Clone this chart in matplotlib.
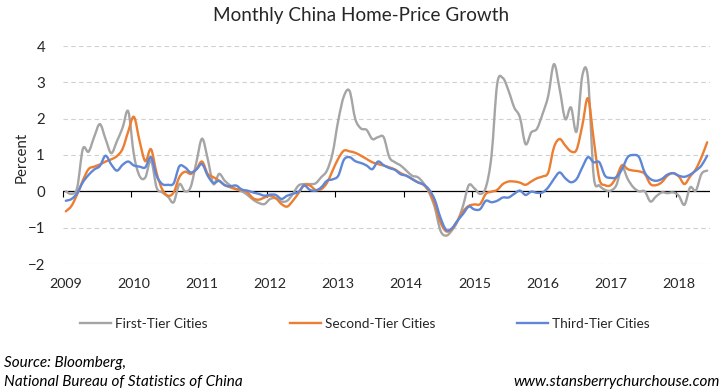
import numpy as np
import matplotlib.pyplot as plt
from matplotlib.path import Path
from matplotlib.patches import PathPatch
from matplotlib.lines import Line2D

# monthly data, Jan 2009 .. Jun 2018 (percent change m/m)
years = list(range(2009, 2019))

first_tier = [
    0.0, -0.07, 0.1, 1.17, 1.09, 1.5, 1.85, 1.44, 1.05, 1.38, 1.75, 2.2,
    1.0, 0.42, 0.38, 0.85, 0.1, -0.03, -0.15, -0.3, 0.2, 0.0, 0.12, 0.8,
    1.45, 0.89, 0.2, 0.48, 0.29, 0.16, 0.06, 0.0, -0.1, -0.23, -0.32, -0.35,
    -0.21, -0.19, -0.28, -0.26, -0.07, 0.16, 0.2, 0.2, 0.22, 0.39, 0.57, 1.05,
    1.95, 2.62, 2.76, 1.99, 1.73, 1.69, 1.44, 1.49, 1.49, 0.94, 0.8, 0.71,
    0.57, 0.43, 0.39, 0.23, -0.03, -0.44, -1.08, -1.22, -1.08, -0.83, -0.39, 0.17,
    0.08, -0.07, 0.11, 0.98, 2.95, 3.12, 2.77, 2.31, 2.04, 1.3, 1.62, 1.72,
    2.13, 2.63, 3.5, 2.82, 1.99, 2.31, 1.65, 3.18, 3.12, 0.43, 0.16, 0.04,
    0.02, 0.17, 0.66, 0.34, 0.11, 0.0, 0.0, -0.28, -0.14, -0.03, -0.05, -0.03,
    -0.12, -0.37, 0.11, 0.02, 0.48, 0.57,
]

second_tier = [
    -0.55, -0.4, -0.08, 0.3, 0.61, 0.68, 0.74, 0.82, 0.88, 0.97, 1.17, 1.65,
    2.05, 1.38, 0.83, 1.16, 0.5, 0.05, -0.12, -0.03, 0.39, 0.54, 0.48, 0.61,
    0.82, 0.48, 0.39, 0.29, 0.17, 0.11, 0.06, 0.04, -0.03, -0.19, -0.23, -0.17,
    -0.12, -0.19, -0.35, -0.42, -0.26, -0.05, 0.17, 0.16, 0.04, 0.06, 0.23, 0.57,
    0.9, 1.12, 1.1, 1.06, 0.98, 0.89, 0.8, 0.75, 0.71, 0.66, 0.6, 0.5,
    0.43, 0.34, 0.25, 0.18, 0.0, -0.35, -0.85, -1.1, -1.04, -0.81, -0.55, -0.4,
    -0.36, -0.35, -0.07, -0.01, 0.04, 0.2, 0.27, 0.27, 0.24, 0.18, 0.27, 0.36,
    0.41, 0.52, 1.21, 1.44, 1.26, 1.1, 1.15, 1.81, 2.56, 1.44, 0.34, 0.17,
    0.17, 0.39, 0.72, 0.61, 0.57, 0.55, 0.48, 0.2, 0.17, 0.25, 0.43, 0.5,
    0.41, 0.2, 0.41, 0.61, 0.94, 1.35,
]

third_tier = [
    -0.26, -0.21, -0.05, 0.25, 0.45, 0.6, 0.7, 0.98, 0.74, 0.57, 0.73, 0.82,
    0.71, 0.68, 0.66, 0.94, 0.42, 0.2, 0.18, 0.22, 0.69, 0.66, 0.52, 0.6,
    0.75, 0.43, 0.23, 0.29, 0.17, 0.14, 0.16, 0.05, 0.02, -0.03, -0.07, -0.12,
    -0.09, -0.1, -0.21, -0.12, -0.07, -0.01, 0.16, 0.04, 0.02, 0.11, 0.29, 0.33,
    0.43, 0.87, 0.94, 0.83, 0.78, 0.71, 0.61, 0.82, 0.72, 0.64, 0.59, 0.47,
    0.43, 0.34, 0.25, 0.19, 0.05, -0.23, -0.72, -1.06, -1.02, -0.81, -0.62, -0.42,
    -0.5, -0.49, -0.26, -0.3, -0.26, -0.17, -0.17, -0.07, 0.02, -0.1, -0.01, -0.04,
    -0.03, 0.11, 0.34, 0.52, 0.36, 0.25, 0.34, 0.66, 0.94, 0.8, 0.8, 0.43,
    0.37, 0.39, 0.61, 0.94, 1.0, 0.94, 0.52, 0.34, 0.29, 0.34, 0.46, 0.5,
    0.43, 0.4, 0.46, 0.57, 0.71, 0.98,
]

series = [
    ('First-Tier Cities', first_tier, '#A5A5A5'),
    ('Second-Tier Cities', second_tier, '#ED7D31'),
    ('Third-Tier Cities', third_tier, '#5F87D6'),
]

months = np.arange(len(first_tier)) + 0.5


def smooth_path(x, y):
    # Excel style "smoothed line": bezier segments through every point
    p = np.column_stack([x, y])
    pp = np.vstack([p[0], p, p[-1]])
    verts = [p[0]]
    codes = [Path.MOVETO]
    for i in range(len(p) - 1):
        c1 = pp[i + 1] + (pp[i + 2] - pp[i]) / 6
        c2 = pp[i + 2] - (pp[i + 3] - pp[i + 1]) / 6
        verts += [c1, c2, p[i + 1]]
        codes += [Path.CURVE4] * 3
    return Path(verts, codes)


plt.rcParams['font.family'] = ['Lato', 'DejaVu Sans']
text_col = '#262626'

fig = plt.figure(figsize=(7.23, 3.92), dpi=100)
ax = fig.add_axes([63 / 723, 1 - 264 / 392, 647 / 723, 218 / 392])

handles = []
for z, (name, vals, col) in enumerate(series):
    ax.add_patch(PathPatch(smooth_path(months, vals), facecolor='none', edgecolor=col,
                           lw=1.7, joinstyle='round', capstyle='round', zorder=3 + z))
    handles.append(Line2D([], [], color=col, lw=1.7, label=name))

ax.set_xlim(0, 114)
ax.set_ylim(-2, 4)
ax.set_yticks(range(-2, 5))
ax.yaxis.grid(True, color='#D0D0D0', lw=0.8, ls=(0, (4, 3)))
ax.set_axisbelow(True)
ax.axhline(0, color='black', lw=0.9, zorder=2)

for s in ax.spines.values():
    s.set_visible(False)

ax.set_xticks(np.arange(0, 114, 12) + 0.5)
ax.set_xticklabels([str(y) for y in years])
ax.tick_params(axis='x', length=0, pad=10, labelsize=10.3, labelcolor=text_col)
ax.tick_params(axis='y', length=0, pad=13, labelsize=10.8, labelcolor=text_col)

# tick marks on the zero line
sec = ax.secondary_xaxis(2 / 6)
sec.set_xticks(np.arange(0, 115, 12))
sec.set_xticklabels([])
sec.tick_params(direction='out', length=4, width=0.8, color='black')
for s in sec.spines.values():
    s.set_visible(False)

fig.text(0.5, 1 - 16 / 392, 'Monthly China Home-Price Growth', ha='center', va='center',
         fontsize=13.6, color=text_col)
fig.text(22 / 723, 1 - 157 / 392, 'Percent', rotation=90, ha='center', va='center',
         fontsize=10.8, color=text_col)

fig.legend(handles=handles, loc='center', bbox_to_anchor=(365 / 723, 1 - 324 / 392), ncol=3,
           frameon=False, fontsize=9.8, handlelength=2.3, handletextpad=0.3,
           columnspacing=6.0, labelcolor=text_col)

fig.text(4 / 723, 1 - 367 / 392, 'Source: Bloomberg,', style='italic', va='baseline',
         fontsize=11, color='black')
fig.text(4 / 723, 1 - 386 / 392, 'National Bureau of Statistics of China', style='italic',
         va='baseline', fontsize=11, color='black')
fig.text(720 / 723, 1 - 386 / 392, 'www.stansberrychurchouse.com', style='italic',
         ha='right', va='baseline', fontsize=11, color='black')

fig.savefig('out.png', dpi=100)
